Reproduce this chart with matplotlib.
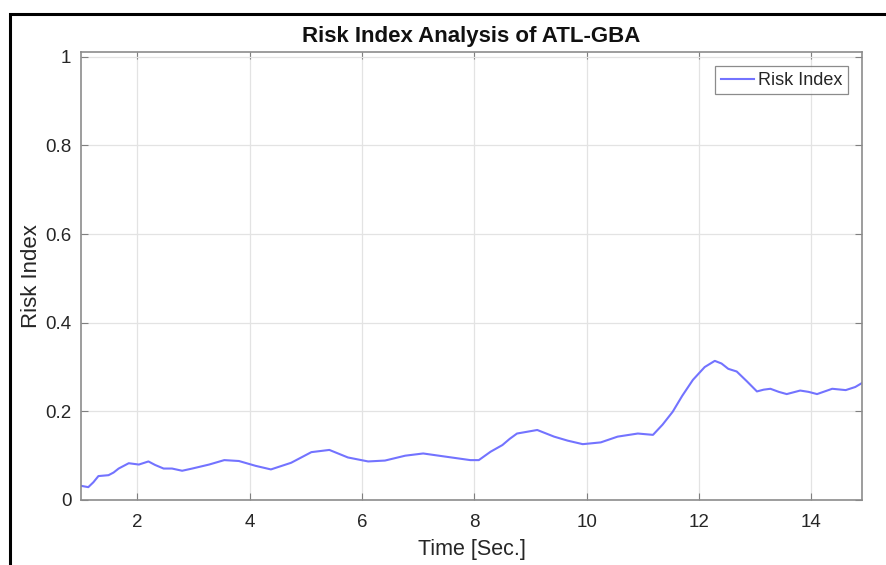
import numpy as np
import matplotlib
matplotlib.use('Agg')
import matplotlib.pyplot as plt
from matplotlib.patches import Rectangle

# risk index samples read along the time axis
time_s = [1.00, 1.13, 1.22, 1.31, 1.49, 1.58, 1.67, 1.85, 2.03, 2.20, 2.32, 2.47,
          2.62, 2.80, 2.98, 3.28, 3.55, 3.81, 4.11, 4.38, 4.74, 4.92, 5.10, 5.42,
          5.75, 6.11, 6.41, 6.77, 7.09, 7.48, 7.93, 8.08, 8.29, 8.50, 8.63, 8.76,
          9.12, 9.42, 9.66, 9.93, 10.25, 10.55, 10.91, 11.18, 11.35, 11.53, 11.70,
          11.89, 12.10, 12.28, 12.40, 12.52, 12.67, 12.85, 13.03, 13.15, 13.27,
          13.42, 13.56, 13.80, 13.95, 14.10, 14.37, 14.61, 14.78, 14.94]
risk_idx = [0.032, 0.029, 0.040, 0.054, 0.056, 0.062, 0.071, 0.083, 0.080, 0.087,
            0.079, 0.071, 0.071, 0.066, 0.071, 0.080, 0.090, 0.088, 0.077, 0.069,
            0.084, 0.096, 0.108, 0.113, 0.096, 0.087, 0.089, 0.100, 0.105, 0.098,
            0.090, 0.090, 0.109, 0.124, 0.138, 0.150, 0.158, 0.143, 0.134, 0.126,
            0.130, 0.143, 0.150, 0.147, 0.170, 0.199, 0.235, 0.271, 0.300, 0.314,
            0.308, 0.296, 0.290, 0.268, 0.245, 0.249, 0.251, 0.244, 0.239, 0.247,
            0.244, 0.239, 0.251, 0.248, 0.255, 0.267]

x_ticks = [2, 4, 6, 8, 10, 12, 14]
y_ticks = [0, 0.2, 0.4, 0.6, 0.8, 1]
y_tick_labels = ['0', '0.2', '0.4', '0.6', '0.8', '1']

plt.rcParams['font.family'] = ['Liberation Sans', 'DejaVu Sans']

W, H = 887, 565
fig = plt.figure(figsize=(W / 100, H / 100), dpi=100)
ax = fig.add_axes([81 / W, 1 - 500 / H, (862 - 81) / W, (500 - 52) / H])

ax.plot(time_s, risk_idx, color='#7373ff', lw=1.5, label='Risk Index',
        solid_joinstyle='round')

ax.set_xlim(1, 14.9)
ax.set_ylim(0, 1.011)
ax.set_xticks(x_ticks)
ax.set_yticks(y_ticks)
ax.set_yticklabels(y_tick_labels)
ax.grid(True, color='#e3e3e3', lw=0.9)
ax.set_axisbelow(True)
ax.tick_params(direction='in', length=5, width=0.8, colors='#808080',
               labelcolor='#262626', labelsize=13.5, top=True, right=True)
ax.tick_params(axis='x', pad=10)
ax.tick_params(axis='y', pad=7)
for s in ax.spines.values():
    s.set_color('#8c8c8c')
    s.set_linewidth(1.2)

ax.set_title('Risk Index Analysis of ATL-GBA', fontsize=16, fontweight='bold',
             color='#111111', pad=7)
ax.set_xlabel('Time [Sec.]', fontsize=15.5, color='#262626', labelpad=6)
ax.set_ylabel('Risk Index', fontsize=16, color='#262626', labelpad=2)

leg = ax.legend(loc='upper right', fontsize=13, frameon=True, fancybox=False,
                borderpad=0.3, handlelength=1.85, handletextpad=0.2,
                borderaxespad=0.8)
leg.get_frame().set_edgecolor('#6e6e6e')
leg.get_frame().set_linewidth(0.9)
for t in leg.get_texts():
    t.set_color('#262626')

# black frame around the figure
fig.patches.append(Rectangle((10 / W, -0.1), 1.2, 1 - 14 / H + 0.1,
                             transform=fig.transFigure, fill=False,
                             edgecolor='black', lw=2.2))

fig.savefig('out.png', dpi=100)
